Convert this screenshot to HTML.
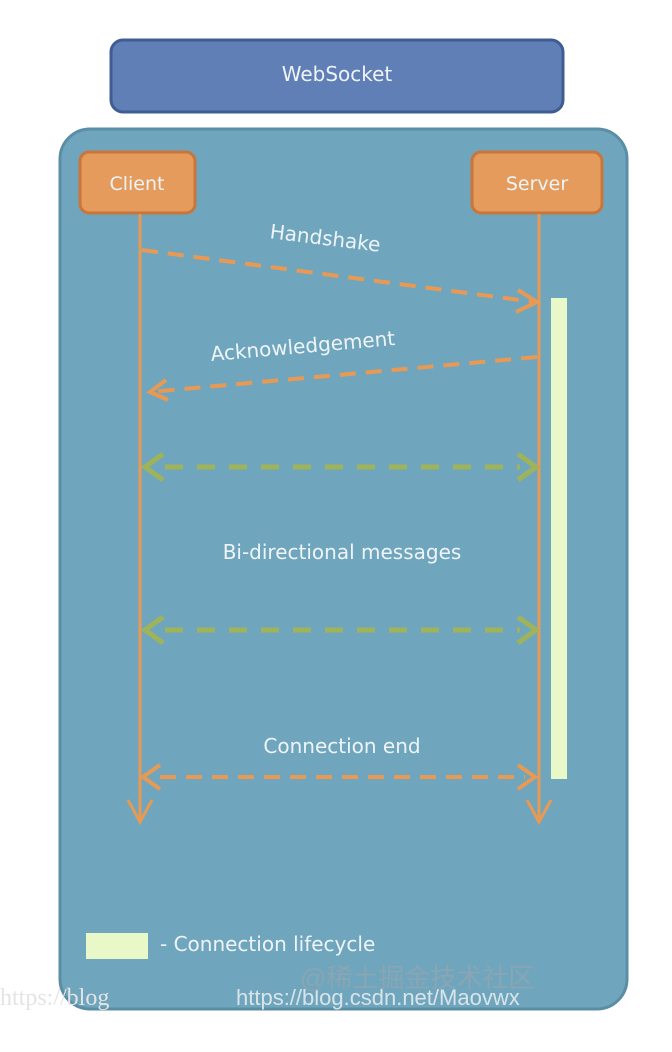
<!DOCTYPE html>
<html><head><meta charset="utf-8"><style>
html,body{margin:0;padding:0;background:#fff;width:672px;height:1052px;overflow:hidden}
text{font-family:"DejaVu Sans","Liberation Sans",sans-serif;fill:#eef4f8}
</style></head><body>
<svg width="672" height="1052" viewBox="0 0 672 1052" xmlns="http://www.w3.org/2000/svg">
<rect x="111" y="40" width="452" height="72" rx="12" fill="#5f7fb6" stroke="#3f5d93" stroke-width="3"/>
<text x="337" y="81" font-size="20" text-anchor="middle">WebSocket</text>
<rect x="60" y="129" width="567" height="880" rx="30" fill="#6fa6bd" stroke="#5a8ea6" stroke-width="3"/>
<rect x="80" y="152" width="115" height="61" rx="9" fill="#e59b5c" stroke="#c8763b" stroke-width="3"/>
<text x="137" y="190" font-size="19" text-anchor="middle">Client</text>
<rect x="472" y="152" width="130" height="61" rx="9" fill="#e59b5c" stroke="#c8763b" stroke-width="3"/>
<text x="537" y="190" font-size="19" text-anchor="middle">Server</text>
<rect x="551" y="298" width="16" height="481" fill="#e8f8c8"/>
<g stroke="#e89a55" stroke-width="3" fill="none">
<line x1="140" y1="214" x2="140" y2="820"/><polyline points="128,800 140,822 152,800"/>
<line x1="539" y1="214" x2="539" y2="820"/><polyline points="527,800 539,822 551,800"/>
<g stroke-dasharray="16,10" stroke-width="4">
<line x1="142" y1="250" x2="535" y2="302"/>
<line x1="537" y1="357" x2="150" y2="392"/>
<line x1="160" y1="777" x2="525" y2="777"/>
</g>
<polyline points="518,290 537,302 516,312" stroke-width="4"/>
<polyline points="166,380 150,392 168,400" stroke-width="4"/>
<polyline points="160,765 143,777 160,789" stroke-width="4"/>
<polyline points="518,765 535,777 518,789" stroke-width="4"/>
</g>
<g stroke="#9fb45a" stroke-width="5" fill="none">
<line x1="165" y1="467" x2="520" y2="467" stroke-dasharray="18,14"/>
<polyline points="163,454 145,467 163,480"/><polyline points="518,454 536,467 518,480"/>
<line x1="165" y1="630" x2="520" y2="630" stroke-dasharray="18,14"/>
<polyline points="163,617 145,630 163,643"/><polyline points="518,617 536,630 518,643"/>
</g>
<text x="325" y="245" font-size="20" text-anchor="middle" transform="rotate(7 325 240)">Handshake</text>
<text x="303" y="353" font-size="20" text-anchor="middle" transform="rotate(-5 303 348)">Acknowledgement</text>
<text x="342" y="559" font-size="20" text-anchor="middle">Bi-directional messages</text>
<text x="342" y="753" font-size="20" text-anchor="middle">Connection end</text>
<rect x="86" y="933" width="62" height="26" fill="#e8f8c8"/>
<text x="160" y="951" font-size="20">- Connection lifecycle</text>
<text x="0" y="1005" font-size="24" style="font-family:'Liberation Serif',serif;fill:#e4e4e4">https://blog</text>
<text x="236" y="1005" font-size="22" style="font-family:'Liberation Sans',sans-serif;fill:#f4f4f4;opacity:.8">https://blog.csdn.net/Maovwx</text>
<text x="300" y="987" font-size="26" style="font-family:'Liberation Sans','Noto Sans CJK SC',sans-serif;fill:#8aa5b3">@稀土掘金技术社区</text>
</svg>
</body></html>
